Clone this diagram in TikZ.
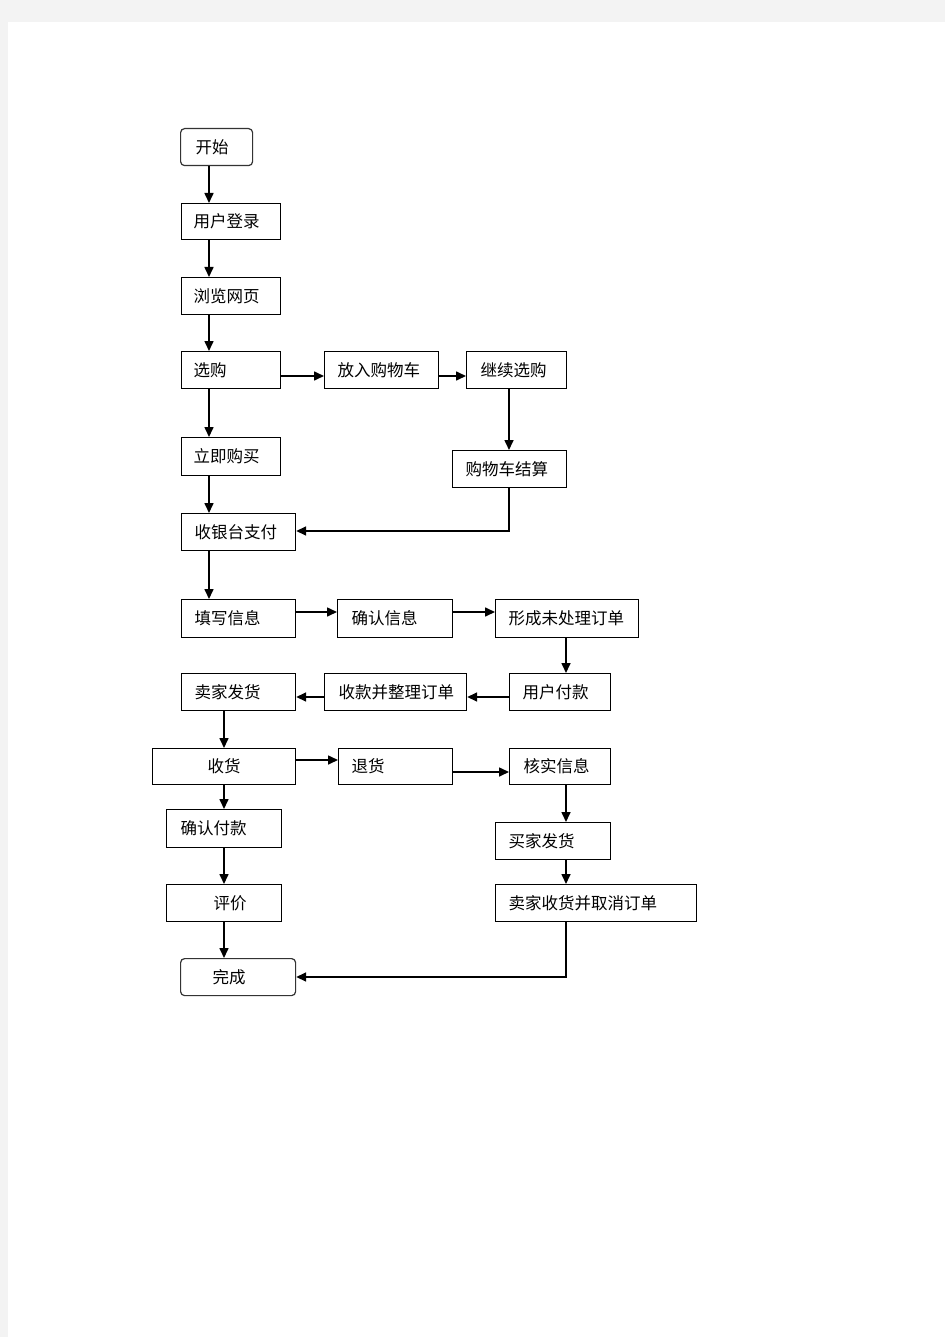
\documentclass[tikz,border=0pt]{standalone}
\usepackage{fontspec}
\newfontfamily\cjk{Noto Sans CJK SC}
\usetikzlibrary{arrows.meta}
\definecolor{pagegray}{HTML}{F3F3F3}
\tikzset{
  box/.style={draw, line width=1.2pt, anchor=north west, inner xsep=4pt, inner ysep=0pt,
    align=left, font=\cjk\fontsize{16.5}{18}\selectfont},
  rbox/.style={box, rounded corners=4pt, draw=black!80},
  arr/.style={line width=1.6pt, -{Triangle[length=10pt,width=9pt]}},
}
\begin{document}
\begin{tikzpicture}[x=1pt,y=-1pt]
\fill[pagegray] (0,0) rectangle (945,1337);
\fill[white] (8,22) rectangle (945,1337);
\useasboundingbox (0,0) rectangle (945,1337);

% boxes
\node[rbox, text width=64pt, minimum height=37pt] (start) at (180,128) {\hspace*{11pt}开始};
\node[box, text width=91pt, minimum height=36pt] (login) at (181,203) {\hspace*{8pt}用户登录};
\node[box, text width=91pt, minimum height=37pt] (browse) at (181,277) {\hspace*{8pt}浏览网页};
\node[box, text width=91pt, minimum height=37pt] (select) at (181,351) {\hspace*{8pt}选购};
\node[box, text width=106pt, minimum height=37pt] (cart) at (324,351) {\hspace*{9pt}放入购物车};
\node[box, text width=92pt, minimum height=37pt] (cont) at (466,351) {\hspace*{10pt}继续选购};
\node[box, text width=91pt, minimum height=38pt] (buy) at (181,437) {\hspace*{8pt}立即购买};
\node[box, text width=106pt, minimum height=37pt] (settle) at (452,450) {\hspace*{9pt}购物车结算};
\node[box, text width=106pt, minimum height=37pt] (cashier) at (181,513) {\hspace*{9pt}收银台支付};
\node[box, text width=106pt, minimum height=38pt] (fill) at (181,599) {\hspace*{9pt}填写信息};
\node[box, text width=107pt, minimum height=38pt] (confirm) at (337,599) {\hspace*{10pt}确认信息};
\node[box, text width=135pt, minimum height=38pt] (form) at (495,599) {\hspace*{9pt}形成未处理订单};
\node[box, text width=93pt, minimum height=37pt] (pay) at (509,673) {\hspace*{9pt}用户付款};
\node[box, text width=134pt, minimum height=37pt] (collect) at (324,673) {\hspace*{10pt}收款并整理订单};
\node[box, text width=106pt, minimum height=37pt] (ship) at (181,673) {\hspace*{9pt}卖家发货};
\node[box, text width=135pt, minimum height=36pt] (recv) at (152,748) {\hspace*{51pt}收货};
\node[box, text width=106pt, minimum height=36pt] (ret) at (338,748) {\hspace*{9pt}退货};
\node[box, text width=93pt, minimum height=36pt] (verify) at (509,748) {\hspace*{10pt}核实信息};
\node[box, text width=107pt, minimum height=38pt] (cpay) at (166,809) {\hspace*{10pt}确认付款};
\node[box, text width=107pt, minimum height=37pt] (review) at (166,884) {\hspace*{43pt}评价};
\node[rbox, text width=107pt, minimum height=37pt] (done) at (180,958) {\hspace*{28pt}完成};
\node[box, text width=107pt, minimum height=37pt] (bship) at (495,822) {\hspace*{9pt}买家发货};
\node[box, text width=193pt, minimum height=37pt] (cancel) at (495,884) {\hspace*{9pt}卖家收货并取消订单};

% guide coordinates
\coordinate (vA) at (209,0);
\coordinate (vB) at (224,0);
\coordinate (vC) at (509,0);
\coordinate (vD) at (566,0);
\coordinate (h1) at (0,376);
\coordinate (h2) at (0,531);
\coordinate (h3) at (0,612);
\coordinate (h4) at (0,697);
\coordinate (h5) at (0,760);
\coordinate (h6) at (0,772);
\coordinate (h7) at (0,977);

% left column
\draw[arr] (start.south -| vA) -- (login.north -| vA);
\draw[arr] (login.south -| vA) -- (browse.north -| vA);
\draw[arr] (browse.south -| vA) -- (select.north -| vA);
\draw[arr] (select.south -| vA) -- (buy.north -| vA);
\draw[arr] (buy.south -| vA) -- (cashier.north -| vA);
\draw[arr] (cashier.south -| vA) -- (fill.north -| vA);

% cart branch
\draw[arr] (select.east |- h1) -- (cart.west |- h1);
\draw[arr] (cart.east |- h1) -- (cont.west |- h1);
\draw[arr] (cont.south -| vC) -- (settle.north -| vC);
\draw[arr] (settle.south -| vC) -- (vC |- h2) -- (cashier.east |- h2);

% order row
\draw[arr] (fill.east |- h3) -- (confirm.west |- h3);
\draw[arr] (confirm.east |- h3) -- (form.west |- h3);
\draw[arr] (form.south -| vD) -- (pay.north -| vD);
\draw[arr] (pay.west |- h4) -- (collect.east |- h4);
\draw[arr] (collect.west |- h4) -- (ship.east |- h4);
\draw[arr] (ship.south -| vB) -- (recv.north -| vB);

% receive
\draw[arr] (recv.east |- h5) -- (ret.west |- h5);
\draw[arr] (ret.east |- h6) -- (verify.west |- h6);
\draw[arr] (recv.south -| vB) -- (cpay.north -| vB);
\draw[arr] (cpay.south -| vB) -- (review.north -| vB);
\draw[arr] (review.south -| vB) -- (done.north -| vB);

% return branch
\draw[arr] (verify.south -| vD) -- (bship.north -| vD);
\draw[arr] (bship.south -| vD) -- (cancel.north -| vD);
\draw[arr] (cancel.south -| vD) -- (vD |- h7) -- (done.east |- h7);
\end{tikzpicture}
\end{document}
